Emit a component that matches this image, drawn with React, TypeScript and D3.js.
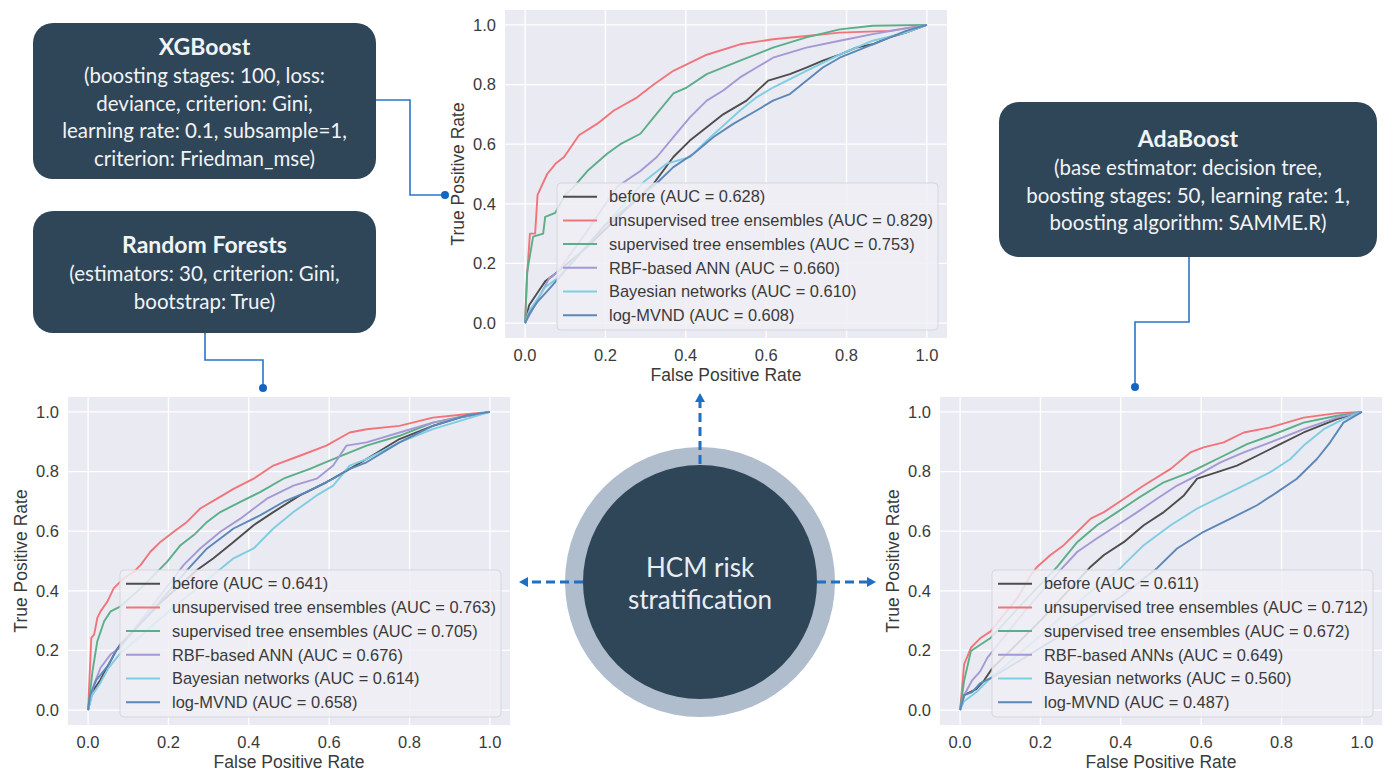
import React from "react";
import * as d3 from "d3";

type Pt = [number, number];

const width = 1390;
const height = 772;

// ROC panels share these
const tickValues = [0, 0.2, 0.4, 0.6, 0.8, 1.0];
const seriesColors = ["#4d4d4d", "#f2747a", "#5aae88", "#a399d4", "#7fcde2", "#5b87b9"];

const xgbLabels = [
  "before (AUC = 0.628)",
  "unsupervised tree ensembles (AUC = 0.829)",
  "supervised tree ensembles (AUC = 0.753)",
  "RBF-based ANN (AUC = 0.660)",
  "Bayesian networks (AUC = 0.610)",
  "log-MVND (AUC = 0.608)",
];
const rfLabels = [
  "before (AUC = 0.641)",
  "unsupervised tree ensembles (AUC = 0.763)",
  "supervised tree ensembles (AUC = 0.705)",
  "RBF-based ANN (AUC = 0.676)",
  "Bayesian networks (AUC = 0.614)",
  "log-MVND (AUC = 0.658)",
];
const adaLabels = [
  "before (AUC = 0.611)",
  "unsupervised tree ensembles (AUC = 0.712)",
  "supervised tree ensembles (AUC = 0.672)",
  "RBF-based ANNs (AUC = 0.649)",
  "Bayesian networks (AUC = 0.560)",
  "log-MVND (AUC = 0.487)",
];

// XGBoost (top panel), [fpr, tpr]
const xgbBefore: Pt[] = [[0,0],[0.01,0.06],[0.03,0.1],[0.05,0.14],[0.07,0.16],[0.15,0.25],[0.25,0.38],[0.32,0.468],[0.369,0.557],[0.41,0.612],[0.452,0.657],[0.493,0.7],[0.551,0.746],[0.605,0.813],[0.659,0.835],[0.7,0.857],[0.741,0.88],[0.783,0.9],[0.824,0.924],[0.865,0.935],[0.907,0.958],[0.948,0.974],[1,1]];
const xgbUnsup: Pt[] = [[0,0],[0.005,0.16],[0.012,0.3],[0.025,0.3],[0.031,0.43],[0.055,0.5],[0.076,0.535],[0.097,0.557],[0.134,0.63],[0.179,0.668],[0.221,0.713],[0.279,0.757],[0.32,0.8],[0.369,0.846],[0.452,0.9],[0.535,0.935],[0.617,0.952],[0.7,0.963],[0.783,0.974],[0.907,0.98],[1,1]];
const xgbSup: Pt[] = [[0,0],[0.005,0.17],[0.02,0.29],[0.045,0.3],[0.05,0.356],[0.075,0.37],[0.1,0.43],[0.121,0.457],[0.155,0.51],[0.204,0.568],[0.237,0.6],[0.287,0.635],[0.32,0.69],[0.369,0.77],[0.402,0.79],[0.452,0.835],[0.535,0.88],[0.617,0.924],[0.7,0.958],[0.783,0.985],[0.865,0.997],[1,1]];
const xgbRbf: Pt[] = [[0,0],[0.02,0.05],[0.04,0.1],[0.06,0.15],[0.08,0.17],[0.15,0.3],[0.229,0.457],[0.287,0.51],[0.328,0.557],[0.369,0.624],[0.41,0.69],[0.452,0.746],[0.493,0.78],[0.535,0.824],[0.576,0.857],[0.617,0.89],[0.7,0.924],[0.783,0.947],[0.865,0.969],[1,1]];
const xgbBayes: Pt[] = [[0,0],[0.01,0.04],[0.03,0.08],[0.05,0.12],[0.08,0.15],[0.18,0.3],[0.295,0.473],[0.353,0.535],[0.411,0.557],[0.452,0.612],[0.535,0.713],[0.576,0.757],[0.617,0.79],[0.7,0.846],[0.783,0.9],[0.865,0.947],[0.948,0.974],[1,1]];
const xgbLog: Pt[] = [[0,0],[0.01,0.03],[0.03,0.07],[0.05,0.1],[0.07,0.13],[0.2,0.33],[0.328,0.47],[0.369,0.523],[0.419,0.568],[0.469,0.624],[0.518,0.668],[0.576,0.713],[0.617,0.746],[0.659,0.768],[0.7,0.813],[0.741,0.857],[0.783,0.89],[0.865,0.935],[0.948,0.98],[1,1]];

// Random Forests (bottom left)
const rfBefore: Pt[] = [[0,0],[0.01,0.06],[0.03,0.1],[0.05,0.15],[0.07,0.2],[0.08,0.22],[0.18,0.36],[0.271,0.47],[0.312,0.509],[0.362,0.564],[0.412,0.62],[0.461,0.664],[0.527,0.72],[0.593,0.764],[0.651,0.809],[0.693,0.842],[0.775,0.909],[0.858,0.953],[0.924,0.981],[1,1]];
const rfUnsup: Pt[] = [[0,0],[0.008,0.242],[0.015,0.253],[0.023,0.309],[0.031,0.331],[0.048,0.364],[0.064,0.409],[0.089,0.442],[0.114,0.464],[0.131,0.487],[0.155,0.531],[0.18,0.564],[0.213,0.598],[0.246,0.631],[0.279,0.676],[0.321,0.709],[0.362,0.742],[0.412,0.776],[0.461,0.82],[0.527,0.853],[0.593,0.887],[0.651,0.931],[0.693,0.942],[0.775,0.953],[0.858,0.981],[0.94,0.992],[1,1]];
const rfSup: Pt[] = [[0,0],[0.011,0.131],[0.023,0.231],[0.04,0.298],[0.056,0.331],[0.081,0.348],[0.14,0.42],[0.197,0.498],[0.23,0.553],[0.263,0.587],[0.296,0.631],[0.329,0.664],[0.379,0.698],[0.428,0.731],[0.486,0.776],[0.552,0.809],[0.61,0.842],[0.693,0.887],[0.775,0.92],[0.858,0.964],[0.94,0.987],[1,1]];
const rfRbf: Pt[] = [[0,0],[0.015,0.087],[0.031,0.142],[0.056,0.187],[0.08,0.21],[0.16,0.35],[0.238,0.487],[0.279,0.542],[0.329,0.598],[0.379,0.642],[0.445,0.709],[0.511,0.753],[0.569,0.776],[0.61,0.82],[0.643,0.887],[0.693,0.898],[0.775,0.931],[0.858,0.964],[1,1]];
const rfBayes: Pt[] = [[0,0],[0.01,0.05],[0.03,0.09],[0.05,0.14],[0.08,0.19],[0.2,0.33],[0.321,0.464],[0.362,0.509],[0.412,0.542],[0.461,0.609],[0.511,0.664],[0.569,0.72],[0.61,0.753],[0.651,0.82],[0.693,0.842],[0.775,0.898],[0.858,0.942],[0.94,0.976],[1,1]];
const rfLog: Pt[] = [[0,0],[0.005,0.05],[0.02,0.1],[0.05,0.15],[0.07,0.2],[0.09,0.23],[0.17,0.35],[0.247,0.47],[0.296,0.542],[0.362,0.609],[0.428,0.653],[0.486,0.698],[0.544,0.731],[0.61,0.776],[0.651,0.809],[0.693,0.831],[0.775,0.898],[0.858,0.953],[0.94,0.987],[1,1]];

// AdaBoost (bottom right)
const adaBefore: Pt[] = [[0,0],[0.01,0.05],[0.04,0.07],[0.06,0.1],[0.08,0.14],[0.2,0.3],[0.325,0.481],[0.358,0.52],[0.408,0.564],[0.457,0.62],[0.507,0.664],[0.557,0.72],[0.59,0.776],[0.64,0.798],[0.689,0.82],[0.739,0.853],[0.789,0.887],[0.855,0.931],[0.938,0.976],[1,1]];
const adaUnsup: Pt[] = [[0,0],[0.01,0.153],[0.027,0.209],[0.051,0.242],[0.076,0.264],[0.109,0.32],[0.143,0.376],[0.176,0.453],[0.192,0.481],[0.225,0.52],[0.258,0.553],[0.292,0.598],[0.325,0.642],[0.358,0.664],[0.408,0.709],[0.457,0.753],[0.524,0.809],[0.573,0.864],[0.606,0.881],[0.656,0.898],[0.706,0.931],[0.772,0.948],[0.855,0.981],[0.938,0.996],[1,1]];
const adaSup: Pt[] = [[0,0],[0.01,0.098],[0.027,0.198],[0.051,0.22],[0.076,0.242],[0.15,0.35],[0.242,0.481],[0.292,0.564],[0.341,0.62],[0.391,0.664],[0.441,0.709],[0.507,0.764],[0.573,0.798],[0.606,0.82],[0.656,0.853],[0.714,0.892],[0.772,0.92],[0.855,0.964],[0.938,0.987],[1,1]];
const adaRbf: Pt[] = [[0,0],[0.01,0.05],[0.03,0.1],[0.05,0.13],[0.068,0.176],[0.16,0.33],[0.25,0.47],[0.292,0.531],[0.341,0.576],[0.391,0.62],[0.441,0.664],[0.49,0.709],[0.54,0.753],[0.59,0.787],[0.648,0.831],[0.706,0.864],[0.772,0.898],[0.855,0.942],[0.938,0.981],[1,1]];
const adaBayes: Pt[] = [[0,0],[0.01,0.03],[0.04,0.06],[0.07,0.1],[0.2,0.25],[0.3,0.37],[0.399,0.476],[0.457,0.553],[0.524,0.62],[0.59,0.676],[0.656,0.72],[0.722,0.764],[0.772,0.798],[0.822,0.842],[0.855,0.887],[0.905,0.942],[0.954,0.976],[1,1]];
const adaLog: Pt[] = [[0,0],[0.01,0.05],[0.03,0.06],[0.05,0.09],[0.08,0.11],[0.25,0.25],[0.4,0.38],[0.49,0.476],[0.54,0.542],[0.606,0.598],[0.673,0.642],[0.739,0.687],[0.789,0.731],[0.838,0.776],[0.888,0.842],[0.921,0.898],[0.954,0.964],[1,1]];

// model parameter boxes
const xgbText = [
  "(boosting stages: 100, loss:",
  "deviance, criterion: Gini,",
  "learning rate: 0.1, subsample=1,",
  "criterion: Friedman_mse)",
];
const rfText = ["(estimators: 30, criterion: Gini,", "bootstrap: True)"];
const adaText = [
  "(base estimator: decision tree,",
  "boosting stages: 50, learning rate: 1,",
  "boosting algorithm: SAMME.R)",
];
const centerText = ["HCM risk", "stratification"];

const plotW = 442;
const plotH = 328;
const chartFont = "'Liberation Sans', Arial, sans-serif";
const boxFont = "Lato, 'Open Sans', sans-serif";
const navy = "#2f4659";
const linkBlue = "#2a76c6";

const RocChart = ({ left, top, series, labels }: { left: number; top: number; series: Pt[][]; labels: string[] }) => {
  const x = d3.scaleLinear().domain([-0.05, 1.05]).range([left, left + plotW]);
  const y = d3.scaleLinear().domain([-0.05, 1.05]).range([top + plotH, top]);
  const line = d3.line<Pt>().x((d) => x(d[0])).y((d) => y(d[1]));

  const lgW = plotW - 61;
  const lgH = 147;
  const lgX = left + 52;
  const lgY = top + plotH - 8 - lgH;

  return (
    <g fontFamily={chartFont}>
      <rect x={left} y={top} width={plotW} height={plotH} fill="#eaeaf2" />
      {tickValues.map((t) => (
        <g key={t}>
          <line x1={x(t)} x2={x(t)} y1={top} y2={top + plotH} stroke="#fff" strokeWidth={1.3} />
          <line x1={left} x2={left + plotW} y1={y(t)} y2={y(t)} stroke="#fff" strokeWidth={1.3} />
          <text x={x(t)} y={top + plotH + 23} textAnchor="middle" fontSize={16.5} fill="#3a3a3a">
            {t.toFixed(1)}
          </text>
          <text x={left - 9} y={y(t)} dy="0.35em" textAnchor="end" fontSize={16.5} fill="#3a3a3a">
            {t.toFixed(1)}
          </text>
        </g>
      ))}
      {series.map((s, i) => (
        <path key={i} d={line(s) || ""} fill="none" stroke={seriesColors[i]} strokeWidth={1.9} strokeLinejoin="round" />
      ))}
      <text x={left + plotW / 2} y={top + plotH + 43} textAnchor="middle" fontSize={17.5} fill="#3a3a3a">
        False Positive Rate
      </text>
      <text
        transform={`translate(${left - 47},${top + plotH / 2}) rotate(-90)`}
        textAnchor="middle"
        dy="0.35em"
        fontSize={17.5}
        fill="#3a3a3a"
      >
        True Positive Rate
      </text>
      <rect x={lgX} y={lgY} width={lgW} height={lgH} rx={4} fill="#efeff4" fillOpacity={0.85} stroke="#d6d6de" />
      {labels.map((lab, i) => {
        const cy = lgY + 13.7 + i * 23.7;
        return (
          <g key={lab}>
            <line x1={lgX + 6} x2={lgX + 40} y1={cy} y2={cy} stroke={seriesColors[i]} strokeWidth={2} />
            <text x={lgX + 52} y={cy} dy="0.35em" fontSize={16.4} fill="#3a3a3a">
              {lab}
            </text>
          </g>
        );
      })}
    </g>
  );
};

const InfoBox = ({ x, y, w, h, title, lines, titleY }: { x: number; y: number; w: number; h: number; title: string; lines: string[]; titleY: number }) => (
  <g fontFamily={boxFont} fill="#f1f3f5" textAnchor="middle">
    <rect x={x} y={y} width={w} height={h} rx={20} fill={navy} />
    <text x={x + w / 2} y={titleY} dy="0.35em" fontSize={23} fontWeight="bold">
      {title}
    </text>
    {lines.map((l, i) => (
      <text key={l} x={x + w / 2} y={titleY + 29 + i * 27.5} dy="0.35em" fontSize={20.5}>
        {l}
      </text>
    ))}
  </g>
);

const Connector = ({ pts }: { pts: Pt[] }) => {
  const end = pts[pts.length - 1];
  return (
    <g>
      <path d={d3.line()(pts) || ""} fill="none" stroke={linkBlue} strokeWidth={1.6} />
      <circle cx={end[0]} cy={end[1]} r={4} fill="#1565c0" />
    </g>
  );
};

const DashArrow = ({ from, to }: { from: Pt; to: Pt }) => {
  const ang = Math.atan2(to[1] - from[1], to[0] - from[0]);
  const len = 9;
  const half = 5;
  const bx = to[0] - len * Math.cos(ang);
  const by = to[1] - len * Math.sin(ang);
  const px = -Math.sin(ang) * half;
  const py = Math.cos(ang) * half;
  return (
    <g>
      <line x1={from[0]} y1={from[1]} x2={bx} y2={by} stroke="#1f6fc5" strokeWidth={3} strokeDasharray="9,5" />
      <polygon points={`${to[0]},${to[1]} ${bx + px},${by + py} ${bx - px},${by - py}`} fill="#1f6fc5" />
    </g>
  );
};

export default function App() {
  return (
    <svg width={width} height={height} style={{ position: "absolute", left: 0, top: 0, background: "#fff" }}>
      <RocChart left={505} top={10} series={[xgbBefore, xgbUnsup, xgbSup, xgbRbf, xgbBayes, xgbLog]} labels={xgbLabels} />
      <RocChart left={68} top={397} series={[rfBefore, rfUnsup, rfSup, rfRbf, rfBayes, rfLog]} labels={rfLabels} />
      <RocChart left={940} top={397} series={[adaBefore, adaUnsup, adaSup, adaRbf, adaBayes, adaLog]} labels={adaLabels} />

      <InfoBox x={33} y={23} w={343} h={156} title="XGBoost" lines={xgbText} titleY={47} />
      <InfoBox x={33} y={211} w={343} h={122} title="Random Forests" lines={rfText} titleY={245} />
      <InfoBox x={999} y={102} w={378} h={155} title="AdaBoost" lines={adaText} titleY={139} />

      <Connector pts={[[376, 100], [410, 100], [410, 195], [445, 195]]} />
      <Connector pts={[[205, 333], [205, 360], [263, 360], [263, 388]]} />
      <Connector pts={[[1189, 257], [1189, 322], [1135, 322], [1135, 387]]} />

      <circle cx={700} cy={582} r={135} fill="#afbdcc" />
      <circle cx={700} cy={582} r={117} fill={navy} />
      {centerText.map((t, i) => (
        <text key={t} x={700} y={568 + i * 32} dy="0.35em" textAnchor="middle" fontFamily={boxFont} fontSize={26} fill="#e9edf1">
          {t}
        </text>
      ))}
      <DashArrow from={[700, 464]} to={[700, 393]} />
      <DashArrow from={[583, 582]} to={[519, 582]} />
      <DashArrow from={[817, 582]} to={[876, 582]} />
    </svg>
  );
}
